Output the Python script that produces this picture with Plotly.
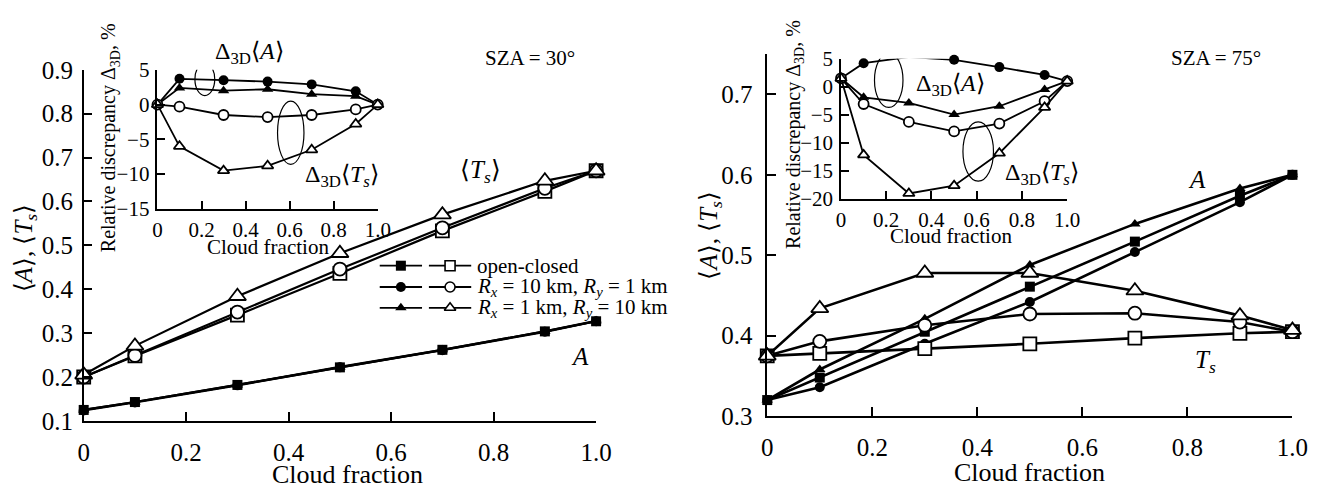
import plotly.graph_objects as go

# ---------------- data ----------------
cloud_fraction = [0, 0.1, 0.3, 0.5, 0.7, 0.9, 1.0]

# SZA = 30 deg, main panel
A30_open_closed = [0.125, 0.143, 0.182, 0.222, 0.262, 0.304, 0.327]
A30_rx10_ry1 = [0.124, 0.142, 0.181, 0.222, 0.261, 0.303, 0.327]
A30_rx1_ry10 = [0.125, 0.143, 0.182, 0.223, 0.262, 0.304, 0.328]
Ts30_open_closed = [0.200, 0.248, 0.341, 0.436, 0.533, 0.623, 0.670]
Ts30_rx10_ry1 = [0.200, 0.249, 0.348, 0.446, 0.540, 0.630, 0.670]
Ts30_rx1_ry10 = [0.205, 0.271, 0.384, 0.482, 0.570, 0.647, 0.670]

# SZA = 30 deg, inset (relative discrepancy, %)
dA30_rx10_ry1 = [0, 3.7, 3.5, 3.3, 2.9, 1.9, 0]
dA30_rx1_ry10 = [0, 2.4, 2.0, 2.2, 1.5, 1.2, 0]
dTs30_rx10_ry1 = [0, -0.3, -1.5, -1.8, -1.5, -0.7, 0]
dTs30_rx1_ry10 = [0, -6.0, -9.5, -8.8, -6.5, -2.8, 0]

# SZA = 75 deg, main panel
A75_open_closed = [0.320, 0.348, 0.405, 0.461, 0.517, 0.574, 0.600]
A75_rx10_ry1 = [0.320, 0.336, 0.390, 0.442, 0.504, 0.566, 0.600]
A75_rx1_ry10 = [0.320, 0.358, 0.421, 0.488, 0.539, 0.583, 0.600]
Ts75_open_closed = [0.375, 0.378, 0.384, 0.390, 0.397, 0.403, 0.405]
Ts75_rx10_ry1 = [0.375, 0.393, 0.413, 0.427, 0.428, 0.417, 0.405]
Ts75_rx1_ry10 = [0.375, 0.434, 0.478, 0.478, 0.456, 0.425, 0.407]

# SZA = 75 deg, inset
dA75_rx10_ry1 = [1.5, 4.2, 5.3, 4.8, 3.5, 2.1, 1.0]
dA75_rx1_ry10 = [1.5, -1.9, -2.9, -5.0, -3.5, -0.5, 1.0]
dTs75_rx10_ry1 = [1.5, -3.1, -6.3, -8.0, -6.6, -2.6, 1.0]
dTs75_rx1_ry10 = [1.5, -12.2, -19.1, -17.7, -11.9, -3.7, 1.0]

x_tickvals = [0, 0.2, 0.4, 0.6, 0.8, 1.0]
x_ticktext = ["0", "0.2", "0.4", "0.6", "0.8", "1.0"]
y30_tickvals = [0.1, 0.2, 0.3, 0.4, 0.5, 0.6, 0.7, 0.8, 0.9]
y75_tickvals = [0.3, 0.4, 0.5, 0.6, 0.7]
d30_tickvals = [-15, -10, -5, 0, 5]
d75_tickvals = [-20, -15, -10, -5, 0, 5]

legend_labels = [
    "open-closed",
    "<i>R<sub>x</sub></i> = 10 km, <i>R<sub>y</sub></i> = 1 km",
    "<i>R<sub>x</sub></i> = 1 km, <i>R<sub>y</sub></i> = 10 km",
]

# ---------------- layout helpers ----------------
W, H = 1335, 504
FONT = "Liberation Serif"


def px(x):
    return x / W


def py(y):
    return 1 - y / H


def minus(v):
    s = f"{v:g}"
    return s.replace("-", "\u2212")


fig = go.Figure()

SYMS = ["square", "circle", "triangle-up"]


def add_series(ys, xa, ya, sym, filled, size, lw):
    fig.add_trace(go.Scatter(
        x=cloud_fraction, y=ys, xaxis=xa, yaxis=ya, mode="lines+markers",
        line=dict(color="black", width=lw),
        marker=dict(symbol=sym, size=size,
                    color="black" if filled else "white",
                    line=dict(color="black", width=0 if filled else 1.8)),
        cliponaxis=False, showlegend=False, hoverinfo="skip"))


# left main
for ys, s in zip([Ts30_open_closed, Ts30_rx10_ry1, Ts30_rx1_ry10], SYMS):
    add_series(ys, "x", "y", s, False, 13 if s != "triangle-up" else 15, 2.2)
for ys, s in zip([A30_open_closed, A30_rx10_ry1, A30_rx1_ry10], SYMS):
    add_series(ys, "x", "y", s, True, 10, 2.2)
# left inset
for ys, s, f in [(dA30_rx10_ry1, "circle", True), (dA30_rx1_ry10, "triangle-up", True),
                 (dTs30_rx10_ry1, "circle", False), (dTs30_rx1_ry10, "triangle-up", False)]:
    add_series(ys, "x2", "y2", s, f, 10, 1.8)
# right main
for ys, s in zip([A75_open_closed, A75_rx10_ry1, A75_rx1_ry10], SYMS):
    add_series(ys, "x3", "y3", s, True, 10, 2.6)
for ys, s in zip([Ts75_open_closed, Ts75_rx10_ry1, Ts75_rx1_ry10], SYMS):
    add_series(ys, "x3", "y3", s, False, 13 if s != "triangle-up" else 15, 2.6)
# right inset
for ys, s, f in [(dA75_rx10_ry1, "circle", True), (dA75_rx1_ry10, "triangle-up", True),
                 (dTs75_rx10_ry1, "circle", False), (dTs75_rx1_ry10, "triangle-up", False)]:
    add_series(ys, "x4", "y4", s, f, 10, 1.8)

# legend samples (custom legend drawn in a pixel-unit helper axis)
row_y = [267, 289.5, 311.5]
for i, s in enumerate(SYMS):
    for x0, x1, filled in [(380, 423, True), (430, 473, False)]:
        fig.add_trace(go.Scatter(
            x=[x0, x1], y=[row_y[i], row_y[i]], xaxis="x5", yaxis="y5", mode="lines",
            line=dict(color="black", width=1.8), showlegend=False, hoverinfo="skip",
            cliponaxis=False))
        fig.add_trace(go.Scatter(
            x=[(x0 + x1) / 2], y=[row_y[i]], xaxis="x5", yaxis="y5", mode="markers",
            marker=dict(symbol=s, size=10, color="black" if filled else "white",
                        line=dict(color="black", width=0 if filled else 1.6)),
            showlegend=False, hoverinfo="skip", cliponaxis=False))

axis_common = dict(showline=True, linecolor="black", linewidth=1.6, ticks="inside",
                   tickcolor="black", tickwidth=1.5, showgrid=False, zeroline=False,
                   tickfont=dict(family=FONT, size=25, color="black"))
inset_common = dict(axis_common, tickfont=dict(family=FONT, size=21, color="black"), ticklen=8)

fig.update_layout(
    width=W, height=H, margin=dict(l=0, r=0, t=0, b=0),
    paper_bgcolor="white", plot_bgcolor="rgba(0,0,0,0)",
    font=dict(family=FONT, color="black"),
    xaxis=dict(axis_common, domain=[px(79), px(600)], range=[0, 1], anchor="y",
               tickvals=x_tickvals, ticktext=x_ticktext, ticklen=9, ticklabelstandoff=8),
    yaxis=dict(axis_common, domain=[py(431), py(60)], range=[0.1, 0.9], anchor="x",
               tickvals=y30_tickvals, ticktext=[f"{v:.1f}" for v in y30_tickvals], ticklen=9,
               ticklabelstandoff=4),
    xaxis2=dict(inset_common, domain=[px(154), px(378)], range=[0, 1], anchor="y2",
                tickvals=x_tickvals, ticktext=x_ticktext, ticklabelstandoff=1),
    yaxis2=dict(inset_common, domain=[py(207), py(60)], range=[-15, 5], anchor="x2",
                tickvals=d30_tickvals, ticktext=[minus(v) for v in d30_tickvals],
                ticklabelstandoff=2),
    xaxis3=dict(axis_common, domain=[px(774), px(1308)], range=[0, 1], anchor="y3",
                tickvals=x_tickvals, ticktext=x_ticktext, ticklen=9, ticklabelstandoff=8),
    yaxis3=dict(axis_common, domain=[py(426), py(43.5)], range=[0.3, 0.75], anchor="x3",
                tickvals=y75_tickvals, ticktext=[f"{v:.1f}" for v in y75_tickvals], ticklen=9,
                ticklabelstandoff=8),
    xaxis4=dict(inset_common, domain=[px(849), px(1079)], range=[0, 1], anchor="y4",
                tickvals=x_tickvals, ticktext=x_ticktext, ticklabelstandoff=1),
    yaxis4=dict(inset_common, domain=[py(196), py(48.3)], range=[-20, 5], anchor="x4",
                tickvals=d75_tickvals, ticktext=[minus(v) for v in d75_tickvals],
                ticklabelstandoff=2),
    xaxis5=dict(domain=[px(375), px(480)], range=[375, 480], visible=False, anchor="y5"),
    yaxis5=dict(domain=[py(325), py(255)], range=[325, 255], visible=False, anchor="x5"),
)

# ellipses in insets
for xr, yr, x0, x1, y0, y1 in [("x2", "y2", 0.17, 0.26, 1.3, 6.0),
                               ("x2", "y2", 0.545, 0.665, -8.6, 0.5),
                               ("x4", "y4", 0.148, 0.274, -3.7, 6.0),
                               ("x4", "y4", 0.539, 0.674, -16.9, -6.3)]:
    fig.add_shape(type="circle", xref=xr, yref=yr, x0=x0, x1=x1, y0=y0, y1=y1,
                  line=dict(color="black", width=1.2))


def ann(text, x, y, size, angle=0, xanchor="center"):
    fig.add_annotation(text=text, x=px(x), y=py(y), xref="paper", yref="paper",
                       showarrow=False, textangle=angle, xanchor=xanchor, yanchor="middle",
                       font=dict(family=FONT, size=size, color="black"))


# axis titles
ann("⟨<i>A</i>⟩, ⟨<i>T<sub>s</sub></i>⟩", 20, 248, 25, -90)
ann("⟨<i>A</i>⟩, ⟨<i>T<sub>s</sub></i>⟩", 716, 235, 25, -90)
ann("Cloud fraction", 347, 488, 26)
ann("Cloud fraction", 1041, 485, 26)
ann("Relative discrepancy Δ<sub>3D</sub>, %", 106, 132, 20, -90)
ann("Relative discrepancy Δ<sub>3D</sub>, %", 801, 128, 20, -90)
ann("Cloud fraction", 266, 247, 21)
ann("Cloud fraction", 961, 236, 21)

# panel text
ann("SZA = 30°", 533, 48, 21)
ann("SZA = 75°", 1230, 48, 21)
ann("Δ<sub>3D</sub>⟨<i>A</i>⟩", 248, 42, 24)
ann("Δ<sub>3D</sub>⟨<i>T<sub>s</sub></i>⟩", 342, 172, 24)
ann("Δ<sub>3D</sub>⟨<i>A</i>⟩", 960, 76, 24)
ann("Δ<sub>3D</sub>⟨<i>T<sub>s</sub></i>⟩", 1053, 170, 24)
ann("⟨<i>T<sub>s</sub></i>⟩", 482, 167, 25)
ann("<i>A</i>", 584, 363, 25)
ann("<i>A</i>", 1211, 176, 25)
ann("<i>T<sub>s</sub></i>", 1220, 368, 25)

# legend labels
for lab, yy in zip(legend_labels, row_y):
    ann(lab, 477, yy, 21, xanchor="left")

fig.write_html("out.html",
               post_script="document.body.style.margin='0';document.body.style.overflow='hidden';")
